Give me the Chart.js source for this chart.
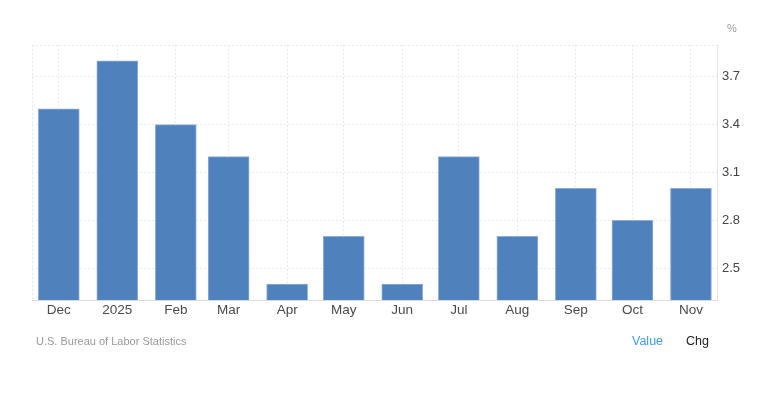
<!DOCTYPE html>
<html>
<head>
<meta charset="utf-8">
<script src="https://cdn.jsdelivr.net/npm/chart.js@4.4.1/dist/chart.umd.min.js"></script>
<style>
  html, body { margin: 0; padding: 0; background: #fff; }
  #wrap { position: relative; width: 776px; height: 397px; font-family: "Liberation Sans", Arial, sans-serif; }
  #wrap canvas { position: absolute; left: 0; top: 0; }
  .note { position: absolute; white-space: nowrap; line-height: 1; }
  #unit { left: 727px; top: 23px; font-size: 11px; color: #999; }
  #source { left: 36px; top: 336px; font-size: 11px; color: #999; }
  #value { left: 632px; top: 335px; font-size: 12.5px; color: #3d9bf5; }
  #chg { left: 686px; top: 335px; font-size: 12.5px; color: #222; }
</style>
</head>
<body>
<div id="wrap">
  <canvas id="rateChart" width="776" height="397"></canvas>
  <div class="note" id="unit">%</div>
  <div class="note" id="source">U.S. Bureau of Labor Statistics</div>
  <div class="note" id="value">Value</div>
  <div class="note" id="chg">Chg</div>
</div>
<script>
// months shown, one bar each
const periods = ['2024-12', '2025-01', '2025-02', '2025-03', '2025-04', '2025-05',
                 '2025-06', '2025-07', '2025-08', '2025-09', '2025-10', '2025-11'];
const categories = ['Dec', '2025', 'Feb', 'Mar', 'Apr', 'May', 'Jun', 'Jul', 'Aug', 'Sep', 'Oct', 'Nov'];
const values = [3.5, 3.8, 3.4, 3.2, 2.4, 2.7, 2.4, 3.2, 2.7, 3.0, 2.8, 3.0];
const yTicks = [2.5, 2.8, 3.1, 3.4, 3.7];
const yMin = 2.3;
const yMax = 3.9;

// days since the first month, so bars sit on a date-like axis
const DAY = 86400000;
function dayOffset(p) {
  const [y, m] = p.split('-').map(Number);
  const [y0, m0] = periods[0].split('-').map(Number);
  return (Date.UTC(y, m - 1, 1) - Date.UTC(y0, m0 - 1, 1)) / DAY;
}
const xValues = periods.map(dayOffset);
const xMin = xValues[0] - 14.2;
const xMax = xValues[xValues.length - 1] + 13.8;

const gridColor = '#e9e9e9';

const ctx = document.getElementById('rateChart').getContext('2d');
new Chart(ctx, {
  type: 'bar',
  data: {
    datasets: [{
      label: 'Value',
      data: xValues.map((x, i) => ({ x: x, y: values[i] })),
      backgroundColor: '#4f81bd',
      borderColor: '#8fb0da',
      borderWidth: 1,
      borderSkipped: 'bottom',
      barThickness: 41
    }]
  },
  options: {
    responsive: false,
    animation: false,
    layout: { padding: { left: 32, top: 45, right: 0, bottom: 72 } },
    plugins: {
      legend: { display: false },
      tooltip: { enabled: false }
    },
    scales: {
      x: {
        type: 'linear',
        offset: false,
        min: xMin,
        max: xMax,
        afterBuildTicks: scale => {
          scale.ticks = [xMin].concat(xValues).map(v => ({ value: v }));
        },
        afterFit: scale => { scale.height = 25; },
        ticks: {
          autoSkip: false,
          maxRotation: 0,
          padding: 2,
          color: '#4a4a4a',
          font: { family: '"Liberation Sans", Arial, sans-serif', size: 13.5 },
          callback: (value) => {
            const i = xValues.indexOf(value);
            return i >= 0 ? categories[i] : '';
          }
        },
        grid: { offset: false, color: gridColor, tickLength: 0, drawTicks: false },
        border: { display: true, color: '#dcdcdc', width: 1, dash: [2, 2] }
      },
      y: {
        position: 'right',
        min: yMin,
        max: yMax,
        afterBuildTicks: scale => {
          scale.ticks = [yMin].concat(yTicks, [yMax]).map(v => ({ value: v }));
        },
        afterFit: scale => { scale.width = 59; },
        ticks: {
          padding: 5,
          color: '#444',
          font: { family: '"Liberation Sans", Arial, sans-serif', size: 13 },
          callback: (value) => yTicks.includes(value) ? value.toFixed(1) : ''
        },
        grid: { color: gridColor, drawTicks: false, tickLength: 0 },
        border: { display: true, color: '#e4e4e4', width: 1, dash: [2, 2] }
      }
    }
  }
});
</script>
</body>
</html>
